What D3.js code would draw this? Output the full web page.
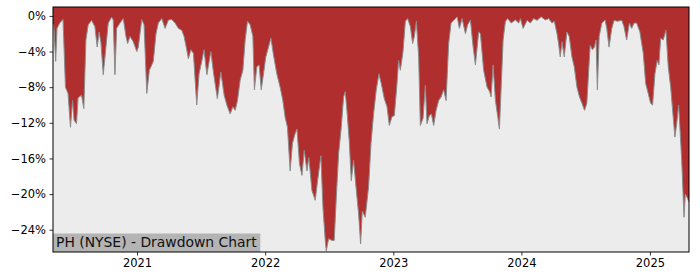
<!DOCTYPE html>
<html>
<head>
<meta charset="utf-8">
<script src="https://d3js.org/d3.v7.min.js"></script>
<style>
  body { margin: 0; background: #fff; }
  text { font-family: "DejaVu Sans", sans-serif; }
</style>
</head>
<body>
<svg id="chart" width="700" height="280"></svg>
<script>
// time as decimal year, drawdown in percent
const years = [
  2020.346, 2020.352, 2020.367, 2020.377, 2020.398, 2020.424, 2020.443, 2020.463, 2020.482, 2020.498,
  2020.510, 2020.529, 2020.541, 2020.568, 2020.586, 2020.602, 2020.620, 2020.646, 2020.672, 2020.690,
  2020.705, 2020.719, 2020.737, 2020.758, 2020.776, 2020.802, 2020.815, 2020.828, 2020.841, 2020.867,
  2020.893, 2020.914, 2020.927, 2020.945, 2020.971, 2020.998, 2021.010, 2021.037, 2021.055, 2021.076,
  2021.096, 2021.115, 2021.127, 2021.148, 2021.166, 2021.193, 2021.219, 2021.245, 2021.271, 2021.297,
  2021.323, 2021.349, 2021.367, 2021.388, 2021.401, 2021.420, 2021.440, 2021.466, 2021.484, 2021.505,
  2021.523, 2021.545, 2021.576, 2021.596, 2021.627, 2021.654, 2021.680, 2021.701, 2021.727, 2021.748,
  2021.766, 2021.784, 2021.805, 2021.826, 2021.844, 2021.862, 2021.883, 2021.904, 2021.916, 2021.935,
  2021.953, 2021.969, 2021.987, 2022.005, 2022.026, 2022.045, 2022.065, 2022.091, 2022.117, 2022.138,
  2022.156, 2022.174, 2022.195, 2022.213, 2022.234, 2022.248, 2022.268, 2022.287, 2022.305, 2022.326,
  2022.341, 2022.365, 2022.391, 2022.409, 2022.435, 2022.451, 2022.469, 2022.477, 2022.495, 2022.521,
  2022.539, 2022.555, 2022.573, 2022.594, 2022.612, 2022.625, 2022.638, 2022.656, 2022.672, 2022.690,
  2022.709, 2022.729, 2022.745, 2022.758, 2022.781, 2022.807, 2022.826, 2022.846, 2022.867, 2022.888,
  2022.906, 2022.930, 2022.951, 2022.969, 2022.990, 2023.008, 2023.029, 2023.041, 2023.055, 2023.076,
  2023.094, 2023.112, 2023.133, 2023.151, 2023.164, 2023.180, 2023.198, 2023.211, 2023.232, 2023.250,
  2023.263, 2023.281, 2023.297, 2023.315, 2023.334, 2023.354, 2023.373, 2023.393, 2023.412, 2023.432,
  2023.451, 2023.471, 2023.498, 2023.516, 2023.537, 2023.563, 2023.580, 2023.602, 2023.620, 2023.641,
  2023.666, 2023.680, 2023.705, 2023.732, 2023.752, 2023.763, 2023.779, 2023.797, 2023.815, 2023.828,
  2023.841, 2023.857, 2023.875, 2023.893, 2023.920, 2023.953, 2023.979, 2023.992, 2024.013, 2024.044,
  2024.070, 2024.095, 2024.122, 2024.153, 2024.186, 2024.212, 2024.238, 2024.256, 2024.277, 2024.289,
  2024.302, 2024.316, 2024.333, 2024.354, 2024.372, 2024.393, 2024.411, 2024.432, 2024.452, 2024.471,
  2024.491, 2024.509, 2024.522, 2024.535, 2024.553, 2024.568, 2024.581, 2024.591, 2024.605, 2024.626,
  2024.651, 2024.664, 2024.682, 2024.703, 2024.721, 2024.747, 2024.781, 2024.798, 2024.819, 2024.840,
  2024.858, 2024.876, 2024.897, 2024.922, 2024.948, 2024.967, 2024.987, 2025.005, 2025.021, 2025.039,
  2025.057, 2025.070, 2025.084, 2025.104, 2025.125, 2025.143, 2025.162, 2025.177, 2025.195, 2025.209,
  2025.224, 2025.234, 2025.248, 2025.260, 2025.266, 2025.276, 2025.291, 2025.305
]
const drawdown = [
  -0.9, -1.0, -5.1, -1.4, -0.8, -0.4, -8.0, -8.7, -12.5, -9.5,
  -11.7, -12.1, -9.2, -8.9, -10.4, -2.7, -1.0, -0.5, -1.2, -3.5,
  -1.8, -3.0, -6.6, -3.5, -0.8, -0.15, -0.45, -6.6, -1.4, -0.8,
  -0.3, -2.3, -3.1, -2.3, -2.9, -4.0, -3.5, -0.4, -1.0, -8.7,
  -6.1, -5.5, -5.1, -2.0, -0.8, -0.3, -1.4, -0.45, -0.4, -0.8,
  -1.4, -1.6, -2.3, -3.8, -4.8, -3.8, -4.2, -10.0, -6.5, -5.1,
  -3.8, -6.6, -4.0, -6.3, -9.3, -6.3, -8.9, -10.0, -11.0, -10.2,
  -10.6, -9.5, -7.2, -6.1, -2.7, -0.6, -1.0, -2.3, -8.3, -5.7,
  -5.5, -8.3, -6.5, -4.6, -3.5, -2.5, -4.4, -6.5, -8.0, -9.5,
  -11.4, -12.5, -17.4, -14.3, -13.2, -12.7, -16.6, -17.9, -15.1, -17.4,
  -15.9, -19.6, -20.7, -18.5, -15.7, -21.5, -25.2, -26.4, -25.0, -25.2,
  -25.2, -20.4, -15.5, -12.5, -9.1, -8.5, -10.6, -14.0, -18.5, -16.2,
  -19.2, -22.2, -25.6, -21.9, -22.6, -19.2, -14.3, -11.0, -8.3, -6.5,
  -7.6, -9.3, -10.2, -12.3, -11.3, -11.2, -7.6, -5.0, -6.1, -4.0,
  -0.6, -0.3, -1.2, -3.1, -2.3, -0.6, -4.6, -12.3, -11.5, -7.8,
  -12.1, -11.2, -11.0, -12.3, -10.6, -9.5, -9.1, -8.3, -9.5, -3.1,
  -0.8, -0.5, -0.1, -1.4, -0.3, -2.0, -1.0, -0.45, -3.1, -5.5,
  -1.8, -2.0, -6.1, -8.0, -8.5, -9.1, -5.5, -9.5, -11.3, -12.7,
  -8.3, -2.7, -0.6, -0.3, -0.8, -0.45, -0.8, -0.3, -1.4, -0.5,
  -0.8, -0.3, -0.5, -0.1, -0.45, -0.3, -0.8, -0.6, -2.0, -3.1,
  -4.6, -2.9, -4.6, -1.8, -2.3, -4.6, -5.7, -8.0, -9.1, -9.8,
  -10.6, -9.8, -6.5, -3.3, -3.8, -3.5, -2.7, -8.3, -2.3, -0.8,
  -0.45, -1.4, -3.5, -1.4, -0.5, -0.6, -0.5, -1.2, -2.7, -0.8,
  -1.4, -0.8, -0.8, -1.8, -4.2, -7.6, -8.7, -9.8, -10.0, -6.5,
  -5.0, -5.5, -2.5, -2.7, -1.6, -5.7, -8.0, -10.6, -13.6, -12.1,
  -10.0, -12.5, -16.2, -20.4, -22.6, -20.0, -20.4, -20.9
]
const yTicks = [0, -4, -8, -12, -16, -20, -24]
const xTickYears = [2021, 2022, 2023, 2024, 2025]
const chartLabel = "PH (NYSE) - Drawdown Chart"

function toDate(t) {
  const y = Math.floor(t)
  const a = new Date(y, 0, 1).getTime(), b = new Date(y + 1, 0, 1).getTime()
  return new Date(a + (t - y) * (b - a))
}

const data = years.map((t, i) => ({ date: toDate(t), value: drawdown[i] }))

const margin = { left: 53, right: 11, top: 7, bottom: 28 }
const width = 700, height = 280
const svg = d3.select("#chart")

const x = d3.scaleTime()
  .domain([data[0].date, data[data.length - 1].date])
  .range([margin.left, width - margin.right])
const y = d3.scaleLinear()
  .domain([-26.5, 1.0])
  .range([height - margin.bottom, margin.top])

// plot background
svg.append("rect")
  .attr("x", margin.left).attr("y", margin.top)
  .attr("width", width - margin.left - margin.right)
  .attr("height", height - margin.top - margin.bottom)
  .attr("fill", "#ececec")

// drawdown filled up to the top of the axes
const area = d3.area()
  .x(d => x(d.date))
  .y0(margin.top)
  .y1(d => y(d.value))
svg.append("path").datum(data)
  .attr("d", area)
  .attr("fill", "#b02e2e")

const line = d3.line().x(d => x(d.date)).y(d => y(d.value))
svg.append("path").datum(data)
  .attr("d", line)
  .attr("fill", "none")
  .attr("stroke", "#8c8c8c")
  .attr("stroke-width", 1)

// axes
const fmtPct = d => (d < 0 ? "\u2212" + Math.abs(d) : d) + "%"
svg.append("g")
  .attr("transform", `translate(${margin.left},0)`)
  .call(d3.axisLeft(y).tickValues(yTicks).tickFormat(fmtPct).tickSize(3.5).tickPadding(3.5))
svg.append("g")
  .attr("transform", `translate(0,${height - margin.bottom})`)
  .call(d3.axisBottom(x).tickValues(xTickYears.map(v => new Date(v, 0, 1)))
    .tickFormat(d3.timeFormat("%Y")).tickSize(3.5).tickPadding(3.5))
svg.selectAll(".domain").remove()
svg.selectAll(".tick line").attr("stroke", "#000").attr("stroke-width", 0.8)
svg.selectAll(".tick text").attr("font-size", "11.5px").attr("fill", "#000")
  .style("font-family", "'DejaVu Sans', sans-serif")

// label box
const label = svg.append("g")
const labelText = label.append("text")
  .attr("x", margin.left + 3)
  .attr("y", height - margin.bottom - 5)
  .attr("font-size", "13.9px")
  .attr("fill", "#111")
  .text(chartLabel)
const bb = labelText.node().getBBox()
label.insert("rect", "text")
  .attr("x", margin.left)
  .attr("y", bb.y - 0.5)
  .attr("width", bb.width + 6)
  .attr("height", height - margin.bottom - bb.y + 0.5)
  .attr("fill", "#b4b4b4")

// frame
svg.append("rect")
  .attr("x", margin.left).attr("y", margin.top)
  .attr("width", width - margin.left - margin.right)
  .attr("height", height - margin.top - margin.bottom)
  .attr("fill", "none")
  .attr("stroke", "#000")
  .attr("stroke-width", 1)
</script>
</body>
</html>
